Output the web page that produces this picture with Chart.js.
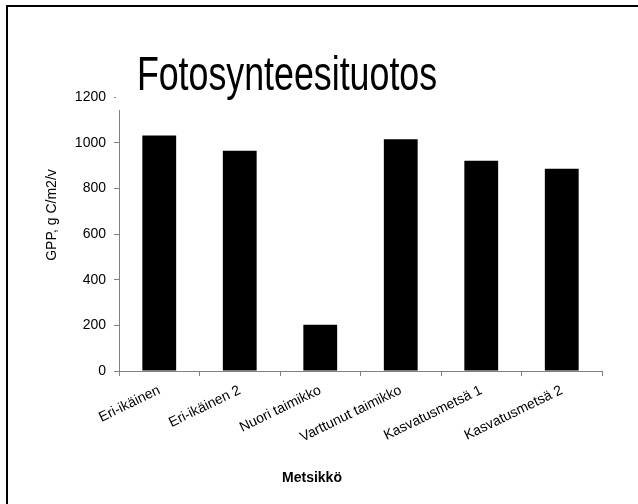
<!DOCTYPE html>
<html>
<head>
<meta charset="utf-8">
<script src="https://cdn.jsdelivr.net/npm/chart.js@4/dist/chart.umd.min.js"></script>
<style>
  html, body { margin: 0; padding: 0; background: #fff; }
  #wrap { width: 638px; height: 504px; }
</style>
</head>
<body>
<div id="wrap"><canvas id="myChart" width="638" height="504"></canvas></div>
<script>
var categories = ["Eri-ikäinen", "Eri-ikäinen 2", "Nuori taimikko", "Varttunut taimikko", "Kasvatusmetsä 1", "Kasvatusmetsä 2"];
var gppValues = [1031, 965, 203, 1015, 921, 886];
var yTicks = [0, 200, 400, 600, 800, 1000, 1200];

var fontFamily = "'Liberation Sans', Arial, sans-serif";

// frame, title over the plot, axis titles
var decorations = {
   id: 'decorations',
   afterDraw: function (chart) {
      var ctx = chart.ctx;
      ctx.save();
      ctx.strokeStyle = '#000';
      ctx.lineWidth = 2;
      ctx.beginPath();
      ctx.moveTo(7, 504);
      ctx.lineTo(7, 6);
      ctx.lineTo(638, 6);
      ctx.stroke();

      ctx.fillStyle = '#fff';
      ctx.fillRect(116, 40, 350, 70);
      ctx.fillStyle = '#000';
      ctx.save();
      ctx.translate(287, 90);
      ctx.scale(0.73, 1);
      ctx.font = '49px ' + fontFamily;
      ctx.textAlign = 'center';
      ctx.textBaseline = 'alphabetic';
      ctx.fillText('Fotosynteesituotos', 0, 0);
      ctx.restore();

      ctx.textAlign = 'center';
      ctx.font = 'bold 14px ' + fontFamily;
      ctx.textBaseline = 'middle';
      ctx.fillText('Metsikkö', 312, 478);

      ctx.font = '14px ' + fontFamily;
      ctx.translate(52, 215);
      ctx.rotate(-Math.PI / 2);
      ctx.fillText('GPP, g C/m2/v', 0, 0);
      ctx.restore();
   }
};

var chrt = document.getElementById("myChart").getContext("2d");
var chartId = new Chart(chrt, {
   type: 'bar',
   data: {
      labels: categories,
      datasets: [{
         label: "GPP",
         data: gppValues,
         backgroundColor: '#000',
         borderWidth: 0,
         barPercentage: 0.42,
         categoryPercentage: 1.0
      }]
   },
   options: {
      responsive: false,
      animation: false,
      layout: {
         padding: { left: 0, right: 36, top: 97, bottom: 0 }
      },
      plugins: {
         legend: { display: false },
         tooltip: { enabled: false }
      },
      scales: {
         x: {
            grid: {
               offset: true,
               drawOnChartArea: false,
               drawTicks: true,
               tickLength: 5,
               color: '#808080'
            },
            border: { color: '#808080', width: 1 },
            ticks: {
               color: '#000',
               font: { family: fontFamily, size: 14 },
               minRotation: 26,
               maxRotation: 26,
               padding: 6
            },
            afterFit: function (scale) { scale.height = 133; }
         },
         y: {
            min: 0,
            max: 1200,
            afterBuildTicks: function (scale) {
               scale.ticks = yTicks.map(function (v) { return { value: v }; });
            },
            grid: {
               drawOnChartArea: false,
               drawTicks: true,
               tickLength: 5,
               color: '#808080'
            },
            border: { color: '#808080', width: 1 },
            ticks: {
               color: '#000',
               font: { family: fontFamily, size: 14 },
               padding: 8,
               callback: function (v) { return String(v); }
            },
            afterFit: function (scale) { scale.width = 119; }
         }
      }
   },
   plugins: [decorations]
});
</script>
</body>
</html>
